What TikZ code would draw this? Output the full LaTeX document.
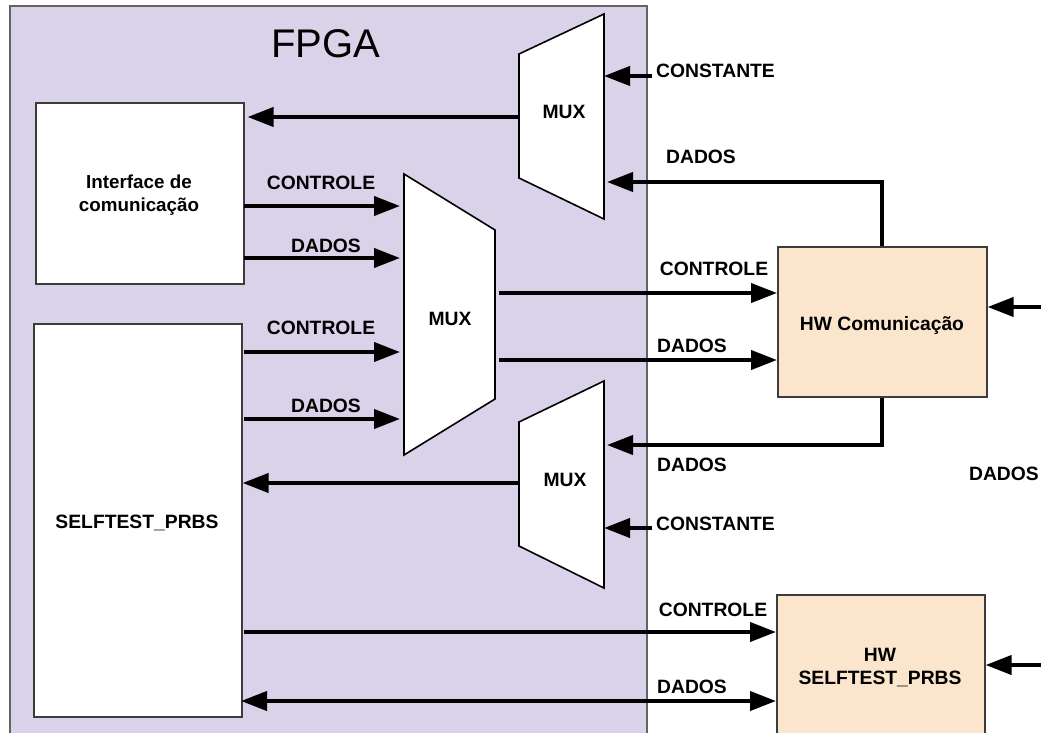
\documentclass[tikz,border=0pt]{standalone}
\usepackage{fontspec}
\setmainfont{Liberation Sans}
\usetikzlibrary{arrows.meta}
\definecolor{fpgafill}{RGB}{217,210,233}
\definecolor{hwfill}{RGB}{252,229,205}
\definecolor{edgegray}{RGB}{60,60,60}
\begin{document}
\begin{tikzpicture}[x=1pt,y=-1pt,
  block/.style={draw=edgegray, line width=1.6pt, fill=white, inner sep=0pt, anchor=north west},
  hwblock/.style={block, fill=hwfill},
  muxshape/.style={draw=black, line width=1.6pt, fill=white, line join=miter},
  lbl/.style={font=\bfseries\fontsize{19.3}{22}\selectfont, inner sep=0pt},
  wire/.style={line width=4pt, draw=black},
  arr/.style={wire, -{Triangle[length=26pt,width=19pt]}},
  darr/.style={wire, {Triangle[length=26pt,width=19pt]}-{Triangle[length=26pt,width=19pt]}}]
\useasboundingbox (0,0) rectangle (1041,733);

% FPGA outline
\node[block, draw=edgegray!80, fill=fpgafill, minimum width=637pt, minimum height=760pt] (fpga) at (9,5) {};
\node[font=\fontsize{40}{44}\selectfont, inner sep=0pt] (fpgatitle) at (326,44) {FPGA};

% internal blocks
\node[block, minimum width=208pt, minimum height=181pt] (ifc) at (35,102) {};
\node[lbl, align=center, font=\bfseries\fontsize{18.8}{22.5}\selectfont] (ifctext) at (139,195) {Interface de\\comunicação};
\node[block, minimum width=208pt, minimum height=393pt] (self) at (33,323) {};
\node[lbl, anchor=base] (selftext) at (137,528) {SELFTEST\_PRBS};

% external hardware blocks
\node[hwblock, minimum width=209pt, minimum height=150pt] (hwc) at (777,246) {};
\node[lbl, anchor=base] (hwctext) at (882,330) {HW Comunicação};
\node[hwblock, minimum width=208pt, minimum height=160pt] (hws) at (776,594) {};
\node[lbl, anchor=base] (hwstext1) at (880,661) {HW};
\node[lbl, anchor=base] (hwstext2) at (880,684) {SELFTEST\_PRBS};

% multiplexers
\draw[muxshape] (519,54) coordinate (m1nw) -- (604,14) coordinate (m1ne)
  -- (604,219) coordinate (m1se) -- (519,178) coordinate (m1sw) -- cycle;
\node[lbl, anchor=base] (m1text) at (564,119) {MUX};
\draw[muxshape] (404,174) coordinate (m2nw) -- (495,230) coordinate (m2ne)
  -- (495,399) coordinate (m2se) -- (404,455) coordinate (m2sw) -- cycle;
\node[lbl, anchor=base] (m2text) at (450,325) {MUX};
\draw[muxshape] (519,422) coordinate (m3nw) -- (604,381) coordinate (m3ne)
  -- (604,588) coordinate (m3se) -- (519,546) coordinate (m3sw) -- cycle;
\node[lbl, anchor=base] (m3text) at (565,486) {MUX};

% top multiplexer to interface
\coordinate (m1out) at (519,117);
\draw[arr, shorten >=3pt] (m1out) -- (m1out -| ifc.east);
\coordinate (c1) at (652,76);
\draw[arr] (c1) -- (c1 -| m1ne);
\node[lbl, anchor=base west] (c1lbl) at (656,78) {CONSTANTE};
\coordinate (d1) at (882,182);
\draw[arr, shorten >=3pt] (hwc.north -| d1) -- (d1) -- (d1 -| m1ne);
\node[lbl, anchor=base] (d1lbl) at (701,164) {DADOS};

% interface to central multiplexer
\coordinate (i1) at (243,206);
\coordinate (i2) at (243,258);
\draw[arr, shorten <=1pt] (i1) -- (400,206);
\draw[arr, shorten <=1pt] (i2) -- (400,258);
\node[lbl, anchor=base] (i1lbl) at (321,189) {CONTROLE};
\node[lbl, anchor=base] (i2lbl) at (326,252) {DADOS};

% selftest to central multiplexer
\coordinate (s1) at (241,352);
\coordinate (s2) at (241,419);
\draw[arr, shorten <=3pt] (s1) -- (400,352);
\draw[arr, shorten <=3pt] (s2) -- (400,419);
\node[lbl, anchor=base] (s1lbl) at (321,334) {CONTROLE};
\node[lbl, anchor=base] (s2lbl) at (326,412) {DADOS};

% central multiplexer to HW Comunicação
\coordinate (o1) at (499,293);
\coordinate (o2) at (499,360);
\draw[arr] (o1) -- (o1 -| hwc.west);
\draw[arr] (o2) -- (o2 -| hwc.west);
\node[lbl, anchor=base] (o1lbl) at (714,275) {CONTROLE};
\node[lbl, anchor=base] (o2lbl) at (692,352) {DADOS};

% HW Comunicação back to bottom multiplexer
\coordinate (d3) at (882,445);
\draw[arr, shorten >=3pt] (hwc.south -| d3) -- (d3) -- (d3 -| m3ne);
\node[lbl, anchor=base] (d3lbl) at (692,471) {DADOS};
\coordinate (c3) at (652,528);
\draw[arr] (c3) -- (c3 -| m3ne);
\node[lbl, anchor=base west] (c3lbl) at (656,530) {CONSTANTE};

% bottom multiplexer to selftest
\coordinate (m3out) at (519,483);
\draw[arr] (m3out) -- (m3out -| self.east);

% selftest to HW selftest
\coordinate (b1) at (244,632);
\coordinate (b2) at (241,701);
\draw[arr] (b1) -- (b1 -| hws.west);
\draw[darr] (b2) -- (b2 -| hws.west);
\node[lbl, anchor=base] (b1lbl) at (713,616) {CONTROLE};
\node[lbl, anchor=base] (b2lbl) at (692,693) {DADOS};

% external inputs
\coordinate (e1) at (1050,307);
\coordinate (e2) at (1050,665);
\draw[arr] (e1) -- (e1 -| hwc.east);
\draw[arr] (e2) -- (e2 -| hws.east);
\node[lbl, anchor=base east] (elbl) at (1039,480) {DADOS};
\end{tikzpicture}
\end{document}
